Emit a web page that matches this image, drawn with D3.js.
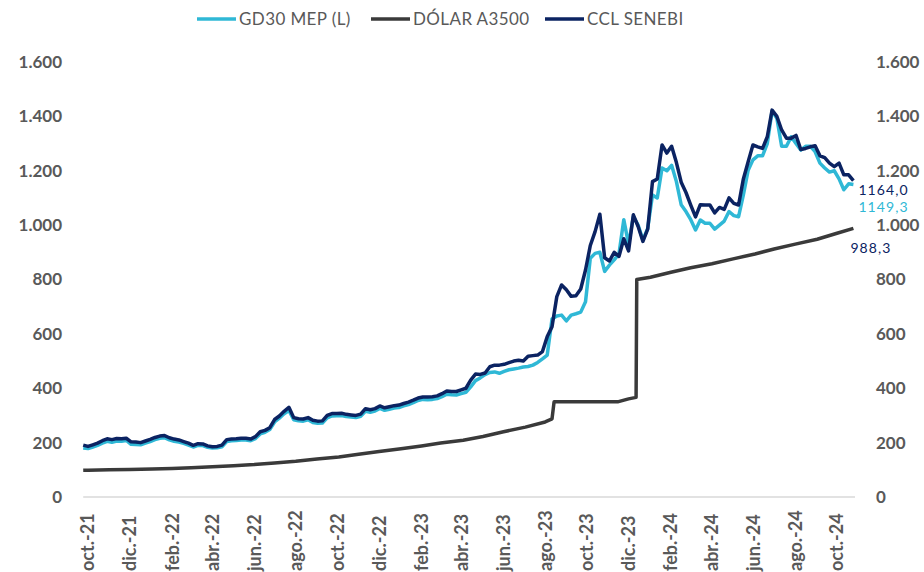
<!DOCTYPE html>
<html>
<head>
<meta charset="utf-8">
<script src="https://cdn.jsdelivr.net/npm/d3@7"></script>
<style>
html,body{margin:0;padding:0;background:#fff;}
svg{display:block;font-family:Lato,"Open Sans",sans-serif;}
</style>
</head>
<body>
<svg id="chart" width="924" height="572"></svg>
<script>
// ---- DATA ----
const weeklyStart = "2021-09-24"; // first weekly observation (weekly step)
const ccl = [191,186,192,198,207,214,211,215,214,216,203,202,200,206,212,219,224,226,218,213,
210,204,198,190,196,195,188,185,186,191,211,213,214,216,216,213,222,240,245,255,
285,298,315,330,292,288,287,292,282,279,280,300,307,307,308,304,302,300,305,325,
321,325,335,328,332,336,338,344,349,356,364,368,368,369,372,380,390,388,388,394,
400,430,452,451,456,479,485,485,488,494,500,503,500,518,520,522,535,590,626,737,
780,762,738,740,765,835,925,976,1040,880,868,900,885,950,905,1038,995,940,985,1160,
1170,1295,1265,1290,1230,1158,1120,1074,1030,1075,1074,1074,1045,1065,1058,1100,1080,1074,1170,1233,
1295,1288,1282,1325,1423,1400,1350,1320,1320,1330,1278,1282,1288,1292,1255,1248,1228,1215,1228,1185,
1185,1164];
const mep = [180,178,184,190,198,205,201,206,205,208,194,193,192,198,204,211,216,218,210,205,
202,197,191,184,190,189,183,180,181,185,204,207,208,210,210,207,215,232,238,248,
276,290,306,318,284,280,279,284,274,271,272,291,298,299,300,296,294,292,297,315,
312,316,326,319,323,327,329,335,340,347,355,359,358,359,362,369,378,376,375,380,
385,405,428,438,450,458,460,455,462,468,471,474,478,480,485,495,508,522,655,666,
669,648,669,674,680,718,878,896,900,830,853,872,895,1020,930,1031,1000,945,988,1111,
1100,1210,1200,1220,1160,1075,1050,1020,982,1019,1007,1007,985,1000,1015,1050,1035,1031,1111,1202,
1240,1255,1255,1300,1420,1393,1290,1290,1325,1300,1276,1290,1290,1270,1228,1210,1195,1200,1170,1130,
1152,1149.3];
const a3500Dates = ["2021-09-24","2021-10-01","2021-11-01","2021-12-01","2022-01-03","2022-02-01","2022-03-01",
"2022-04-01","2022-05-02","2022-06-01","2022-07-01","2022-08-01","2022-09-01","2022-10-03","2022-11-01",
"2022-12-01","2023-01-02","2023-02-01","2023-03-01","2023-04-03","2023-05-02","2023-06-01","2023-07-03",
"2023-08-01","2023-08-11","2023-08-14","2023-11-15","2023-12-01","2023-12-12","2023-12-13","2024-01-02",
"2024-02-01","2024-03-01","2024-04-01","2024-05-02","2024-06-03","2024-07-01","2024-08-01","2024-09-02",
"2024-10-01","2024-10-25"];
const a3500 = [98.3,98.7,99.9,101.6,102.8,105.2,107.8,111.0,115.0,119.2,125.2,131.2,139.8,147.3,157.0,
167.2,177.2,187.8,198.3,209.0,222.5,240.0,257.0,276.0,287.3,350.0,350.0,361.0,366.5,799.9,808.5,
826.5,843.5,858.0,876.0,894.0,912.0,930.0,948.0,970.0,988.3];
const yTicks = [0,200,400,600,800,1000,1200,1400,1600];
const monthNames = ["ene.","feb.","mar.","abr.","may.","jun.","jul.","ago.","sep.","oct.","nov.","dic."];
const seriesNames = ["GD30 MEP (L)","DÓLAR A3500","CCL SENEBI"];
const seriesColors = ["#2FB8D6","#3A3A3A","#0B2362"];
const endLabels = [{name:"CCL SENEBI", text:"1164,0", value:1164.0},
                   {name:"GD30 MEP (L)", text:"1149,3", value:1149.3},
                   {name:"DÓLAR A3500", text:"988,3", value:988.3}];

// ---- BUILD ----
const parse = d3.timeParse("%Y-%m-%d");
const start = parse(weeklyStart);
const weekly = ccl.map((v,i)=>d3.timeDay.offset(start, 7*i));
const mepData = mep.map((v,i)=>({d:weekly[i], v}));
const cclData = ccl.map((v,i)=>({d:weekly[i], v}));
const a3Data = a3500.map((v,i)=>({d:parse(a3500Dates[i]), v}));

const svg = d3.select("#chart");
const x = d3.scaleTime().domain([new Date(2021,9,1), new Date(2024,9,1)]).range([88, 837]);
const y = d3.scaleLinear().domain([0,1600]).range([497, 62]);
const grey = "#595959";
const fmt = v => d3.format(",")(v).replace(/,/g,".");

// baseline
svg.append("line").attr("x1", x(start)).attr("x2", 855)
  .attr("y1", y(0)).attr("y2", y(0)).attr("stroke","#D9D9D9").attr("stroke-width",1.3);

// left axis
const yl = svg.append("g").attr("transform","translate(62,0)")
  .call(d3.axisLeft(y).tickValues(yTicks).tickFormat(fmt).tickSize(0).tickPadding(0));
yl.select(".domain").remove();
yl.selectAll("text").attr("font-size",17).attr("font-weight","bold").attr("fill",grey)
  .attr("font-family","Lato, sans-serif");

// right axis
const yr = svg.append("g").attr("transform","translate(876,0)")
  .call(d3.axisRight(y).tickValues(yTicks).tickFormat(fmt).tickSize(0).tickPadding(0));
yr.select(".domain").remove();
yr.selectAll("text").attr("font-size",17).attr("font-weight","bold").attr("fill",grey)
  .attr("font-family","Lato, sans-serif");

// x axis labels (every 2 months)
const xTicks = d3.timeMonth.range(new Date(2021,9,1), new Date(2024,10,2), 2);
svg.append("g").selectAll("text").data(xTicks).join("text")
  .attr("transform", d => `translate(${x(d)},571) rotate(-90)`)
  .attr("dy","0.36em")
  .attr("text-anchor","start")
  .attr("font-size",18).attr("font-weight","bold").attr("fill",grey)
  .text(d => monthNames[d.getMonth()] + "-" + String(d.getFullYear()).slice(2));

// lines
const line = d3.line().x(d=>x(d.d)).y(d=>y(d.v)).curve(d3.curveLinear);
svg.append("path").datum(mepData).attr("d",line).attr("fill","none")
  .attr("stroke",seriesColors[0]).attr("stroke-width",3.5).attr("stroke-linejoin","round");
svg.append("path").datum(a3Data).attr("d",line).attr("fill","none")
  .attr("stroke",seriesColors[1]).attr("stroke-width",3.5).attr("stroke-linejoin","round");
svg.append("path").datum(cclData).attr("d",line).attr("fill","none")
  .attr("stroke",seriesColors[2]).attr("stroke-width",3.5).attr("stroke-linejoin","round");

// end labels
const lastDate = weekly[weekly.length-1];
const endCol = {"CCL SENEBI":seriesColors[2],"GD30 MEP (L)":seriesColors[0],"DÓLAR A3500":seriesColors[2]};
const endPos = {"CCL SENEBI":[5, 14],"GD30 MEP (L)":[5, 27],"DÓLAR A3500":[-3, 25]};
svg.append("g").selectAll("text").data(endLabels).join("text")
  .attr("x", d => x(lastDate) + endPos[d.name][0])
  .attr("y", d => y(d.value) + endPos[d.name][1])
  .attr("font-size",14).attr("fill", d => endCol[d.name])
  .attr("letter-spacing","1.1")
  .text(d => d.text);

// legend
const legX = [197, 371, 545];
const lg = svg.append("g");
seriesNames.forEach((n,i)=>{
  lg.append("line").attr("x1",legX[i]).attr("x2",legX[i]+39).attr("y1",19).attr("y2",19)
    .attr("stroke",seriesColors[i]).attr("stroke-width",3.5);
  lg.append("text").attr("x",legX[i]+42).attr("y",19).attr("dy","0.35em")
    .attr("font-size",17).attr("fill",grey).attr("letter-spacing","0.4").text(n);
});
</script>
</body>
</html>
